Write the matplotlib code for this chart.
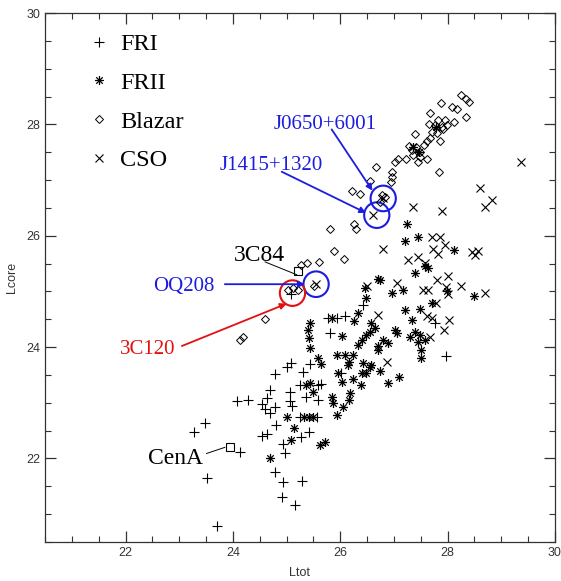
import matplotlib.pyplot as plt
from matplotlib.path import Path
from matplotlib.patches import Ellipse
from matplotlib.ticker import MultipleLocator

plt.rcParams['font.family'] = ['Liberation Sans', 'DejaVu Sans']
serif = ['Liberation Serif', 'DejaVu Serif']

# FRI
fri_ltot = [23.48, 23.27, 24.13, 23.51, 23.70, 24.07, 24.29, 24.63, 24.69, 24.54,
            24.60, 24.69, 24.78, 25.06, 25.06, 25.11, 24.81, 24.55, 24.64, 24.94,
            24.97, 24.78, 24.94, 25.28, 24.91, 25.16, 25.27, 25.42, 25.25, 25.59,
            25.65, 25.36, 25.59, 25.25, 25.57, 25.43, 26.01, 25.30, 25.08, 25.78,
            25.93, 26.09, 25.81, 25.00, 25.09, 24.78, 26.43, 27.76, 27.97]
fri_lcore = [22.63, 22.47, 22.11, 21.65, 20.78, 23.04, 23.05, 23.09, 23.23, 22.97,
             22.89, 22.81, 22.92, 23.20, 23.03, 22.95, 22.60, 22.41, 22.44, 22.26,
             22.10, 21.76, 21.57, 21.60, 21.30, 21.17, 22.39, 22.47, 23.32, 23.32,
             23.34, 23.11, 23.05, 22.74, 22.74, 23.70, 23.53, 23.56, 24.96, 24.52,
             24.52, 24.55, 24.25, 23.65, 23.71, 23.52, 24.76, 24.44, 23.84]

# FRII
frii_ltot = [24.69, 25.01, 25.14, 25.09, 25.62, 25.71, 25.36, 25.43, 25.49, 25.84,
             25.87, 25.94, 25.32, 25.42, 25.49, 25.65, 26.17, 26.55, 26.48, 26.74,
             26.04, 26.24, 26.38, 26.89, 27.10, 26.18, 26.17, 26.05,
             27.25, 27.20, 27.45, 27.39, 27.58, 27.64, 26.71, 26.74, 26.48, 26.46,
             27.17, 26.97, 27.20, 27.33, 27.48, 26.33, 26.26, 25.43, 25.40, 25.42,
             26.03, 26.58, 26.65, 26.48, 26.55, 26.80, 26.71, 26.40, 26.33, 27.02,
             27.05, 27.30, 27.39, 27.48, 27.45, 27.58, 27.50, 27.51, 25.43, 25.59,
             25.94, 26.09, 26.15, 26.24, 25.96, 26.40, 26.43, 26.58, 28.12, 27.99,
             27.70, 28.49, 26.89, 26.71, 25.85, 27.79, 27.36, 27.47]
frii_lcore = [22.00, 22.75, 22.54, 22.33, 22.24, 22.30, 23.32, 23.35, 23.20, 23.11,
              23.00, 22.78, 22.74, 22.74, 22.74, 23.70, 23.74, 23.65, 23.54, 23.57,
              23.38, 23.42, 23.32, 23.35, 23.47, 23.17, 23.05, 22.93,
              26.22, 25.91, 25.98, 25.34, 25.45, 25.42, 25.22, 25.21, 24.88, 25.06,
              25.03, 24.97, 24.67, 24.49, 24.68, 24.62, 24.47, 24.43, 24.31, 24.16,
              24.20, 24.43, 24.34, 24.22, 24.28, 24.13, 24.02, 24.12, 24.04, 24.31,
              24.25, 24.19, 24.28, 24.22, 24.10, 24.13, 23.95, 23.80, 23.98, 23.80,
              23.86, 23.86, 23.68, 23.86, 23.53, 23.53, 23.71, 23.68, 25.74, 25.00,
              24.80, 24.92, 24.07, 23.95, 24.52, 27.96, 27.60, 27.50]

# Blazar
blz_ltot = [28.25, 28.35, 28.40, 27.87, 28.09, 28.18, 27.68, 28.34, 28.12, 27.82,
            27.95, 27.98, 27.76, 27.89, 27.70, 27.81, 27.92, 27.66, 27.40, 27.85,
            27.62, 27.67, 27.56, 27.28, 27.33, 27.42, 27.48, 27.36, 27.48, 27.61,
            27.45, 27.22, 27.08, 27.02, 27.84, 26.67, 26.96, 26.97, 26.94, 26.56,
            26.21, 26.37, 26.77, 26.83, 26.74, 25.81, 26.25, 26.30, 25.88, 26.07,
            25.61, 25.26, 25.38, 24.60, 24.13, 24.19, 25.03, 25.12, 25.22, 25.52]
blz_lcore = [28.52, 28.45, 28.41, 28.38, 28.31, 28.27, 28.20, 28.13, 28.05, 28.08,
             28.08, 27.99, 27.99, 27.95, 27.87, 27.84, 27.91, 28.01, 27.82, 27.70,
             27.70, 27.75, 27.63, 27.62, 27.54, 27.59, 27.51, 27.45, 27.41, 27.37,
             27.33, 27.37, 27.37, 27.33, 27.14, 27.24, 27.14, 27.05, 26.97, 26.98,
             26.80, 26.75, 26.73, 26.70, 26.61, 26.12, 26.22, 26.12, 25.73, 25.58,
             25.52, 25.48, 25.51, 24.51, 24.12, 24.18, 25.03, 25.06, 25.03, 25.10]

# CSO
cso_ltot = [29.37, 28.61, 28.82, 28.69, 27.35, 27.89, 26.61, 26.80, 27.70, 27.86,
            27.95, 27.73, 27.82, 28.45, 28.57, 28.51, 26.79, 27.27, 27.45, 27.58,
            27.81, 28.01, 26.50, 27.05, 27.54, 27.64, 27.97, 28.24, 28.01, 27.79,
            28.69, 26.71, 27.61, 27.70, 28.03, 27.93, 27.68, 26.87, 25.55]
cso_lcore = [27.33, 26.85, 26.64, 26.51, 26.51, 26.45, 26.37, 26.67, 25.97, 25.97,
             25.83, 25.76, 25.67, 25.71, 25.73, 25.66, 25.76, 25.57, 25.61, 25.51,
             25.21, 25.28, 25.09, 25.15, 25.03, 25.03, 25.08, 25.09, 24.96, 24.79,
             24.97, 24.58, 24.55, 24.52, 24.48, 24.31, 24.19, 23.74, 25.13]

# CenA and 3C84 (squares)
sq_ltot = [23.95, 25.22]
sq_lcore = [22.21, 25.36]

# highlighted sources: name, label position, arrow start/end, circle centre, colour
hl_names = ['J0650+6001', 'J1415+1320', 'OQ208', '3C120']
hl_text = [(25.71, 27.91), (24.72, 27.18), (23.09, 25.01), (22.42, 23.88)]
hl_arrow_from = [(25.84, 27.91), (24.91, 27.15), (23.85, 25.13), (23.05, 24.02)]
hl_arrow_to = [(26.60, 26.81), (26.48, 26.41), (25.34, 25.13), (25.00, 24.78)]
hl_circle = [(26.80, 26.67), (26.68, 26.37), (25.55, 25.13), (25.11, 24.97)]
blue = '#1c1ce0'
red = '#e41010'
hl_colors = [blue, blue, blue, red]

# asterisk = plus + cross
star = Path([(-1, 0), (1, 0), (0, -1), (0, 1),
             (-0.72, -0.72), (0.72, 0.72), (-0.72, 0.72), (0.72, -0.72)],
            [Path.MOVETO, Path.LINETO] * 4)

fig = plt.figure(figsize=(5.61, 5.81), dpi=100)
ax = fig.add_axes([0.0802, 0.0671, 0.9091, 0.9105])

ax.plot(fri_ltot, fri_lcore, ls='none', marker='+', ms=7, mew=0.8, color='k', label='FRI')
ax.plot(frii_ltot, frii_lcore, ls='none', marker=star, ms=6.5, mew=0.9, color='k', label='FRII')
ax.plot(blz_ltot, blz_lcore, ls='none', marker='D', ms=3.6, mew=0.7, mfc='none', mec='k', label='Blazar')
ax.plot(cso_ltot, cso_lcore, ls='none', marker='x', ms=6, mew=0.8, color='k', label='CSO')
ax.plot(sq_ltot, sq_lcore, ls='none', marker='s', ms=6, mew=0.8, mfc='none', mec='k')

# black labels with leader lines
ax.text(22.93, 21.91, 'CenA', fontsize=17, family=serif, ha='center', va='baseline')
ax.plot([23.51, 23.85], [22.09, 22.20], color='k', lw=0.7)
ax.text(24.49, 25.55, '3C84', fontsize=17, family=serif, ha='center', va='baseline')
ax.plot([24.60, 25.19], [25.53, 25.30], color='k', lw=0.7)

for name, t, a0, a1, c, col in zip(hl_names, hl_text, hl_arrow_from, hl_arrow_to, hl_circle, hl_colors):
    ax.text(t[0], t[1], name, color=col, fontsize=15, family=serif, ha='center', va='baseline')
    ax.annotate('', xy=a1, xytext=a0,
                arrowprops=dict(arrowstyle='-|>', color=col, lw=1.3, mutation_scale=9,
                                shrinkA=0, shrinkB=0))
    ax.add_patch(Ellipse(c, 0.47, 0.46, fill=False, ec=col, lw=1.5))

ax.set_xlim(20.5, 30)
ax.set_ylim(20.5, 30)
for axis in (ax.xaxis, ax.yaxis):
    axis.set_major_locator(MultipleLocator(2))
    axis.set_minor_locator(MultipleLocator(0.5))
ax.tick_params(which='both', direction='in', top=True, right=True,
               color='#333333', labelcolor='#333333', labelsize=9)
ax.tick_params(which='major', length=8, width=0.9)
ax.tick_params(which='minor', length=4.5, width=0.8)
for s in ax.spines.values():
    s.set_color('#333333')
    s.set_linewidth(0.9)

ax.set_xlabel('Ltot', fontsize=9, color='#333333', labelpad=6)
ax.set_ylabel('Lcore', fontsize=9, color='#333333', labelpad=6)

ax.legend(loc='upper left', bbox_to_anchor=(0.083, 0.962), borderaxespad=0, borderpad=0,
          frameon=False, handlelength=1.0, handletextpad=0.35, labelspacing=0.69,
          prop={'family': serif, 'size': 17.5})

fig.savefig('out.png', dpi=100)
